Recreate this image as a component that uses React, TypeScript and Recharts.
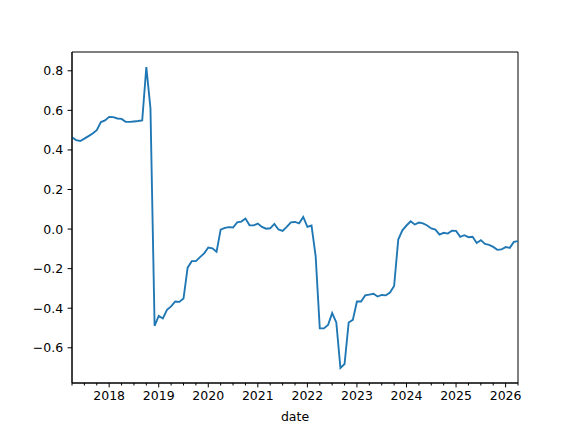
import { LineChart, Line, XAxis, YAxis, ReferenceArea } from 'recharts';

// monthly series, first point is 2017-04, last is 2026-04
const firstYear = 2017;
const firstMonth = 4;

const values = [
  0.464, 0.45, 0.445, 0.457, 0.47, 0.483, 0.5, 0.541, 0.549, 0.567,
  0.566, 0.559, 0.557, 0.542, 0.542, 0.544, 0.546, 0.549, 0.819, 0.61,
  -0.489, -0.439, -0.452, -0.408, -0.391, -0.366, -0.368, -0.351, -0.195, -0.162,
  -0.162, -0.142, -0.123, -0.093, -0.097, -0.115, -0.003, 0.006, 0.01, 0.008,
  0.034, 0.038, 0.053, 0.019, 0.019, 0.028, 0.011, 0.002, 0.004, 0.026,
  -0.002, -0.009, 0.011, 0.034, 0.036, 0.029, 0.061, 0.011, 0.018, -0.137,
  -0.502, -0.502, -0.485, -0.425, -0.472, -0.702, -0.682, -0.472, -0.459, -0.366,
  -0.366, -0.335, -0.331, -0.327, -0.341, -0.333, -0.335, -0.321, -0.288, -0.053,
  -0.006, 0.018, 0.039, 0.023, 0.033, 0.029, 0.018, 0.003, -0.003, -0.028,
  -0.019, -0.023, -0.008, -0.009, -0.039, -0.031, -0.041, -0.039, -0.07, -0.056,
  -0.075, -0.08, -0.09, -0.105, -0.103, -0.091, -0.095, -0.065, -0.061,
];

const yTicks = [-0.6, -0.4, -0.2, 0.0, 0.2, 0.4, 0.6, 0.8];
const yDomain = [-0.778, 0.895];

const FONT = 'DejaVu Sans, sans-serif';
const LINE_COLOR = '#1f77b4';

const data = values.map((v, i) => ({ t: i, value: v }));
const lastIdx = values.length - 1;

// quarter starts get a tick, januaries get a long tick and a year label
const quarterTicks = data.map(d => d.t).filter(t => (firstMonth - 1 + t) % 3 === 0);
const isJanuary = (t: number) => (firstMonth - 1 + t) % 12 === 0;
const yearOf = (t: number) => firstYear + Math.floor((firstMonth - 1 + t) / 12);

const fmtY = (v: number) => (v < 0 ? '\u2212' : '') + Math.abs(v).toFixed(1);

function DateTick(props: any) {
  const { x, y, payload } = props;
  const major = isJanuary(payload.value);
  return (
    <g>
      <line x1={x} x2={x} y1={y} y2={y + (major ? 4.4 : 2.5)} stroke="#000" strokeWidth={1} />
      {major && (
        <text x={x} y={y + 17} textAnchor="middle" fill="#000" fontSize={12.5} fontFamily={FONT}>
          {yearOf(payload.value)}
        </text>
      )}
    </g>
  );
}

export default function App() {
  return (
    <div style={{ position: 'absolute', left: 0, top: 0, background: '#fff' }}>
      <LineChart width={576} height={432} data={data} margin={{ top: 52, right: 58, bottom: 0, left: 0 }}>
        <XAxis
          dataKey="t"
          type="number"
          domain={[0, lastIdx]}
          ticks={quarterTicks}
          interval={0}
          tick={<DateTick />}
          tickLine={false}
          tickSize={0}
          tickMargin={0}
          height={49}
          axisLine={{ stroke: '#000' }}
          allowDataOverflow
          label={{ value: 'date', position: 'insideBottom', offset: 11, fill: '#000', fontSize: 12.5, fontFamily: FONT }}
        />
        <YAxis
          type="number"
          domain={yDomain}
          ticks={yTicks}
          interval={0}
          width={72}
          tickSize={4.4}
          tickMargin={4.4}
          tickFormatter={fmtY}
          tick={{ fill: '#000', fontSize: 12.5, fontFamily: FONT }}
          tickLine={{ stroke: '#000' }}
          axisLine={{ stroke: '#000' }}
          allowDataOverflow
        />
        <ReferenceArea
          x1={0}
          x2={lastIdx}
          y1={yDomain[0]}
          y2={yDomain[1]}
          fill="none"
          stroke="#000"
          strokeWidth={1}
          fillOpacity={0}
        />
        <Line
          type="linear"
          dataKey="value"
          stroke={LINE_COLOR}
          strokeWidth={1.875}
          dot={false}
          isAnimationActive={false}
        />
      </LineChart>
    </div>
  );
}
